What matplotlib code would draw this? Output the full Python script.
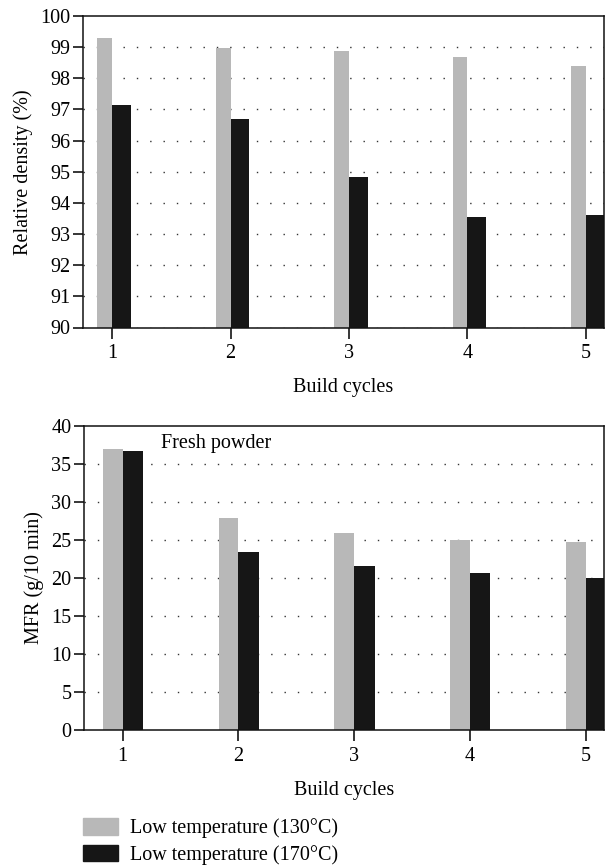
import matplotlib
matplotlib.use("Agg")
from matplotlib import pyplot as plt
from matplotlib.patches import Patch

plt.rcParams['font.family'] = ['Liberation Serif', 'DejaVu Serif']
plt.rcParams['font.size'] = 14.5

cycles = [1, 2, 3, 4, 5]
density_low = [99.29, 98.98, 98.88, 98.68, 98.39]
density_high = [97.14, 96.68, 94.82, 93.56, 93.60]
mfr_low = [36.95, 27.9, 25.9, 25.0, 24.7]
mfr_high = [36.7, 23.4, 21.6, 20.65, 20.0]
labels = ['Low temperature (130°C)', 'Low temperature (170°C)']
grey = '#b8b8b8'
black = '#161616'

fig = plt.figure(figsize=(6.07, 8.65), dpi=100)
W, H = 607.0, 865.0

ax1 = fig.add_axes([83 / W, 1 - 327.5 / H, (604 - 83) / W, (327.5 - 16) / H])
ax2 = fig.add_axes([84 / W, 1 - 730 / H, (604 - 84) / W, (730 - 425.7) / H])


def style(ax, ylim, yticks, xlim):
    ax.set_xlim(*xlim)
    ax.set_ylim(*ylim)
    ax.set_yticks(yticks)
    ax.set_xticks(cycles)
    ax.set_axisbelow(True)
    ax.yaxis.grid(True, linestyle=(0, (1, 8.6)), linewidth=1.0, color='#333333')
    for s in ax.spines.values():
        s.set_linewidth(1.1)
        s.set_color('#111111')
    ax.tick_params(axis='y', direction='out', length=7, width=1.1, pad=2)
    ax.tick_params(axis='x', direction='out', length=8, width=1.1, pad=4)
    ax.set_xlabel('Build cycles', labelpad=11)


ax1.bar(cycles, density_low, width=-0.125, align='edge', color=grey)
ax1.bar(cycles, density_high, width=0.16, align='edge', color=black)
style(ax1, (90, 100), range(90, 101), (0.755, 5.152))
ax1.set_ylabel('Relative density (%)', labelpad=5)
# hide the gridline that sits on the top spine
ax1.get_ygridlines()[-1].set_visible(False)

ax2.bar(cycles, mfr_low, width=-0.172, align='edge', color=grey)
ax2.bar(cycles, mfr_high, width=0.175, align='edge', color=black)
style(ax2, (0, 40), range(0, 41, 5), (0.667, 5.155))
ax2.set_ylabel('MFR (g/10 min)', labelpad=5)
ax2.get_ygridlines()[-1].set_visible(False)
ax2.get_ygridlines()[0].set_visible(False)
ax2.text(1.33, 37.7, 'Fresh powder', ha='left', va='center')

handles = [Patch(color=grey), Patch(color=black)]
fig.legend(handles, labels, loc='upper left', bbox_to_anchor=(83 / W, 1 - 818 / H),
           frameon=False, handlelength=1.75, handleheight=0.9, handletextpad=0.6,
           labelspacing=0.32, borderpad=0, borderaxespad=0)

fig.savefig('out.png', dpi=100)
